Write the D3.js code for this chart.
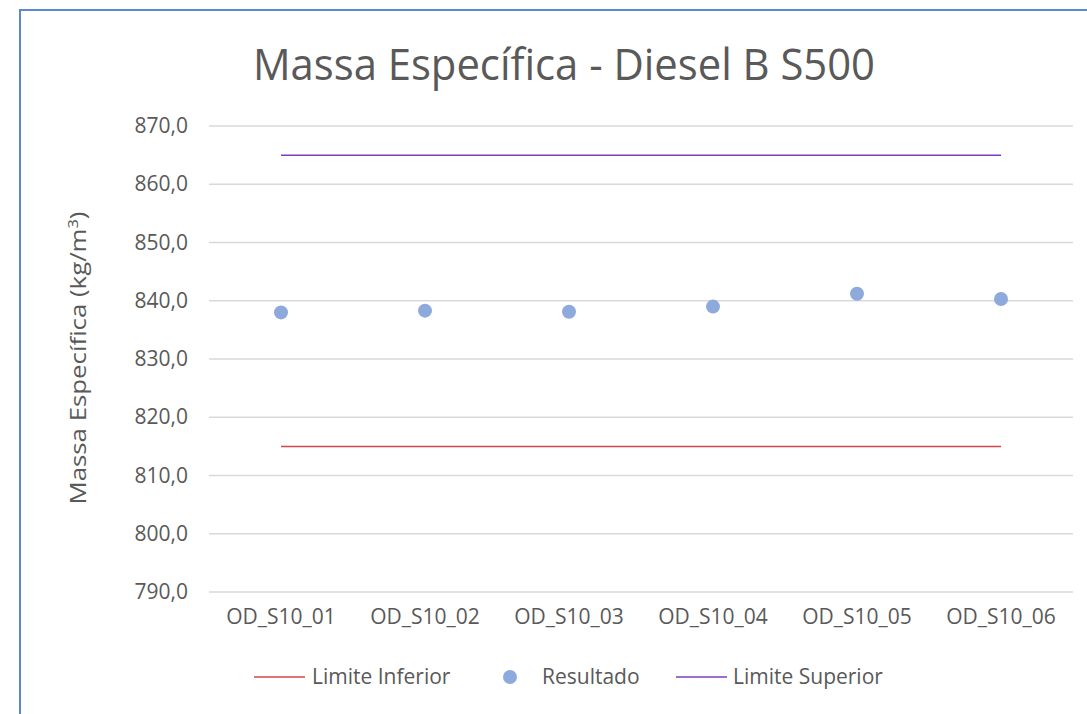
<!DOCTYPE html>
<html>
<head>
<meta charset="utf-8">
<script src="https://cdn.jsdelivr.net/npm/d3@7"></script>
<style>
  body { margin: 0; background: #fff; }
  svg text { font-family: "Open Sans", sans-serif; fill: #595959; }
</style>
</head>
<body>
<div id="chart"></div>
<script>
// Dados do gráfico
const amostras = ['OD_S10_01', 'OD_S10_02', 'OD_S10_03', 'OD_S10_04', 'OD_S10_05', 'OD_S10_06'];
const resultado = [838.0, 838.3, 838.1, 839.0, 841.2, 840.3];
const limiteInferior = [815, 815, 815, 815, 815, 815];
const limiteSuperior = [865, 865, 865, 865, 865, 865];
const yTicks = [790, 800, 810, 820, 830, 840, 850, 860, 870];

const WIDTH = 1087;
const HEIGHT = 714;
const plot = { left: 209, right: 1073, top: 126, bottom: 592 };

const svg = d3.select('#chart')
    .append('svg')
    .attr('width', WIDTH)
    .attr('height', HEIGHT);

// Moldura do gráfico
svg.append('rect')
    .attr('x', 20).attr('y', 10)
    .attr('width', 1200).attr('height', 800)
    .attr('fill', 'none')
    .attr('stroke', '#5b87d3')
    .attr('stroke-width', 2);

// Escalas
const x = d3.scaleBand()
    .domain(amostras)
    .range([plot.left, plot.right]);

const y = d3.scaleLinear()
    .domain([790, 870])
    .range([plot.bottom, plot.top]);

const cx = d => x(d) + x.bandwidth() / 2;

// Grade horizontal
svg.append('g')
    .selectAll('line')
    .data(yTicks)
    .join('line')
    .attr('x1', plot.left).attr('x2', plot.right)
    .attr('y1', d => y(d)).attr('y2', d => y(d))
    .attr('stroke', '#d9d9d9')
    .attr('stroke-width', 1.5);

// Eixo Y (rótulos)
const yAxis = d3.axisLeft(y)
    .tickValues(yTicks)
    .tickSize(0)
    .tickPadding(21)
    .tickFormat(d => d3.format('.1f')(d).replace('.', ','));

svg.append('g')
    .attr('transform', `translate(${plot.left},0)`)
    .call(yAxis)
    .call(g => g.select('.domain').remove())
    .call(g => g.selectAll('text')
        .style('font-size', '21px')
        .attr('fill', '#595959'));

// Eixo X (rótulos)
const xAxis = d3.axisBottom(x)
    .tickSize(0)
    .tickPadding(17);

svg.append('g')
    .attr('transform', `translate(0,${plot.bottom})`)
    .call(xAxis)
    .call(g => g.select('.domain').remove())
    .call(g => g.selectAll('text')
        .style('font-size', '21px')
        .attr('fill', '#595959'));

// Linhas de limite
const line = d3.line()
    .x((d, i) => cx(amostras[i]))
    .y(d => y(d));

svg.append('path')
    .datum(limiteInferior)
    .attr('fill', 'none')
    .attr('stroke', '#d04848')
    .attr('stroke-width', 1.5)
    .attr('d', line);

svg.append('path')
    .datum(limiteSuperior)
    .attr('fill', 'none')
    .attr('stroke', '#7e3cc0')
    .attr('stroke-width', 1.5)
    .attr('d', line);

// Pontos de resultado
svg.append('g')
    .selectAll('circle')
    .data(resultado)
    .join('circle')
    .attr('cx', (d, i) => cx(amostras[i]))
    .attr('cy', d => y(d))
    .attr('r', 7)
    .attr('fill', '#8eaadc');

// Título
svg.append('text')
    .attr('x', 564)
    .attr('y', 80)
    .attr('text-anchor', 'middle')
    .attr('textLength', 622)
    .attr('lengthAdjust', 'spacingAndGlyphs')
    .style('font-size', '44px')
    .text('Massa Específica - Diesel B S500');

// Título do eixo Y
const yTitle = svg.append('text')
    .attr('transform', 'translate(86,358) rotate(-90)')
    .attr('text-anchor', 'middle')
    .attr('textLength', 293)
    .attr('lengthAdjust', 'spacingAndGlyphs')
    .style('font-size', '22px');
yTitle.append('tspan').text('Massa Específica (kg/m');
yTitle.append('tspan').text('3').attr('dy', -8).style('font-size', '14px');
yTitle.append('tspan').text(')').attr('dy', 8);

// Legenda
const legenda = svg.append('g').style('font-size', '21px');

legenda.append('line')
    .attr('x1', 254).attr('x2', 305).attr('y1', 677).attr('y2', 677)
    .attr('stroke', '#d04848').attr('stroke-width', 1.5);
legenda.append('text').attr('x', 312).attr('y', 684).text('Limite Inferior');

legenda.append('circle')
    .attr('cx', 510).attr('cy', 677).attr('r', 7)
    .attr('fill', '#8eaadc');
legenda.append('text').attr('x', 542).attr('y', 684).text('Resultado');

legenda.append('line')
    .attr('x1', 676).attr('x2', 727).attr('y1', 677).attr('y2', 677)
    .attr('stroke', '#7e3cc0').attr('stroke-width', 1.5);
legenda.append('text').attr('x', 733).attr('y', 684).text('Limite Superior');
</script>
</body>
</html>
